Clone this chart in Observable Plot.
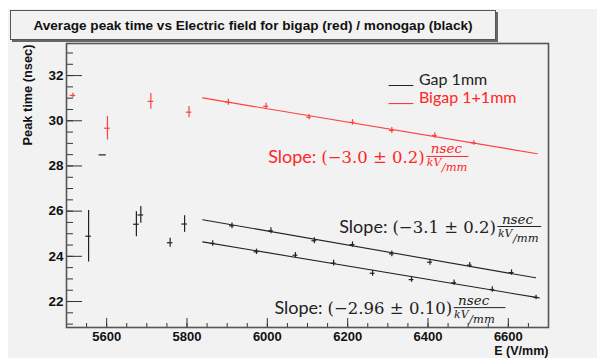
<!DOCTYPE html>
<html><head><meta charset="utf-8">
<script src="https://cdn.jsdelivr.net/npm/d3@7"></script>
<script src="https://cdn.jsdelivr.net/npm/@observablehq/plot@0.6"></script>
<style>
body{margin:0;background:#fff;}
#wrap{position:relative;width:597px;height:358px;overflow:hidden;}
#bg{position:absolute;left:8px;top:9px;right:0;bottom:0;background:#f2f2f2;}
#chart{position:absolute;left:0;top:0;}
#title{position:absolute;left:10px;top:10px;width:484px;height:28px;border:1px solid #555;box-shadow:2px 2px 0 #666;background:#f2f2f2;font:bold 13.6px "Liberation Sans",Arial,sans-serif;text-align:center;line-height:29px;color:#111;white-space:nowrap;}
</style></head><body>
<div id="wrap"><div id="bg"></div><div id="chart"></div><div id="title">Average peak time vs Electric field for bigap (red) / monogap (black)</div></div>
<script>
// ---- data ----
const bigapE    = [5516, 5602, 5710, 5805, 5903, 5997, 6104, 6212, 6310, 6417, 6514];
const bigapT    = [31.12, 29.67, 30.86, 30.38, 30.82, 30.64, 30.16, 29.93, 29.57, 29.35, 29.02];
const bigapErrT = [0.10, 0.52, 0.35, 0.25, 0.13, 0.13, 0.12, 0.12, 0.13, 0.12, 0.10];
const bigapErrE = [7, 7, 7, 7, 6, 6, 6, 6, 6, 6, 6];

const monoIsoE    = [5555, 5590, 5674, 5685, 5758, 5794];
const monoIsoT    = [24.89, 28.49, 25.42, 25.83, 24.60, 25.43];
const monoIsoErrT = [1.14, 0, 0.55, 0.37, 0.20, 0.37];
const monoIsoErrE = [7, 9, 7, 7, 7, 7];

const monoAE    = [5912, 6009, 6117, 6212, 6310, 6405, 6504, 6608];
const monoAT    = [25.35, 25.13, 24.69, 24.52, 24.11, 23.74, 23.61, 23.28];
const monoAErrT = [0.13, 0.13, 0.13, 0.12, 0.13, 0.13, 0.12, 0.12];
const monoBE    = [5864, 5973, 6070, 6165, 6262, 6359, 6465, 6560, 6669];
const monoBT    = [24.57, 24.20, 24.05, 23.70, 23.25, 22.97, 22.83, 22.53, 22.18];
const monoBErrT = [0.12, 0.12, 0.12, 0.13, 0.13, 0.12, 0.12, 0.12, 0.10];
const fitPointErrE = 6;

const bigapFitE = [5839, 6672], bigapFitT = [31.01, 28.54];
const monoAFitE = [5839, 6668], monoAFitT = [25.62, 23.05];
const monoBFitE = [5839, 6677], monoBFitT = [24.64, 22.16];

const slopeValues = ["(−3.0 ± 0.2)", "(−3.1 ± 0.2)", "(−2.96 ± 0.10)"];
const legendLabels = ["Gap 1mm", "Bigap 1+1mm"];

const yMajor = [22, 24, 26, 28, 30, 32];
const yMinor = d3.range(21, 33.01, 0.5);
const xMajor = [5600, 5800, 6000, 6200, 6400, 6600];
const xMinor = d3.range(5550, 6700, 50);

// ---- styles ----
const RED = "#ff4040", RED_TXT = "#ff2626", BLK = "#222";
const serif = "DejaVu Serif, serif";
const sans = "Lato, sans-serif";

const mk = (E, T, dT, dE) => E.map((e, i) => ({E: e, T: T[i], dT: Array.isArray(dT) ? dT[i] : dT, dE: Array.isArray(dE) ? dE[i] : dE}));
const bigap = mk(bigapE, bigapT, bigapErrT, bigapErrE);
const monoIso = mk(monoIsoE, monoIsoT, monoIsoErrT, monoIsoErrE);
const monoA = mk(monoAE, monoAT, monoAErrT, fitPointErrE);
const monoB = mk(monoBE, monoBT, monoBErrT, fitPointErrE);
const fitRows = (E, T) => E.map((e, i) => ({E: e, T: T[i]}));

function errMarks(rows, color) {
  return [
    Plot.ruleX(rows.filter(d => d.dT > 0), {x: "E", y1: d => d.T - d.dT, y2: d => d.T + d.dT, stroke: color, strokeWidth: 1.2}),
    Plot.ruleY(rows, {y: "T", x1: d => d.E - d.dE, x2: d => d.E + d.dE, stroke: color, strokeWidth: 1.2})
  ];
}

// measure widths for annotation layout
const ctx = document.createElement("canvas").getContext("2d");
function tw(str, font) { ctx.font = font; return ctx.measureText(str).width; }
const parenSize = 16.5;
const parenFont = `${parenSize}px ${serif}`;

// slope annotations: fraction bar placement (data coordinates)
const slopes = [
  {x1: 6397, x2: 6502, y: 28.42, color: RED_TXT, text: slopeValues[0]},
  {x1: 6574, x2: 6683, y: 25.32, color: BLK, text: slopeValues[1]},
  {x1: 6465, x2: 6594, y: 21.73, color: BLK, text: slopeValues[2]}
];

const slopeMarks = slopes.flatMap(s => {
  const w = tw(s.text, parenFont);
  return [
    Plot.ruleY([s], {y: "y", x1: "x1", x2: "x2", stroke: s.color, strokeWidth: 1}),
    Plot.text([s], {x: "x1", y: "y", text: "text", fill: s.color, textAnchor: "end", lineAnchor: "bottom", dx: -2, dy: 6.5, fontFamily: serif, fontSize: parenSize}),
    Plot.text([s], {x: "x1", y: "y", text: () => "Slope:", fill: s.color, textAnchor: "end", lineAnchor: "bottom", dx: -2 - w - 5, dy: 6.5, fontFamily: sans, fontSize: 18}),
    Plot.text([s], {x: "x1", y: "y", text: () => "nsec", fill: s.color, textAnchor: "start", lineAnchor: "bottom", dx: 4, dy: -3, fontFamily: serif, fontStyle: "italic", fontSize: 13.5}),
    Plot.text([s], {x: "x1", y: "y", text: () => "kV", fill: s.color, textAnchor: "start", lineAnchor: "bottom", dx: 0, dy: 10, fontFamily: serif, fontStyle: "italic", fontSize: 11}),
    Plot.text([s], {x: "x1", y: "y", text: () => "/mm", fill: s.color, textAnchor: "start", lineAnchor: "bottom", dx: 15, dy: 15, fontFamily: serif, fontStyle: "italic", fontSize: 11.5})
  ];
});

const legend = [
  {x1: 6303, x2: 6365, y: 31.56, color: BLK, label: legendLabels[0]},
  {x1: 6303, x2: 6365, y: 30.76, color: RED_TXT, label: legendLabels[1]}
];

const chart = Plot.plot({
  width: 597, height: 358,
  marginLeft: 66, marginRight: 49, marginTop: 43, marginBottom: 31,
  style: {fontFamily: "Liberation Sans, Arial, sans-serif", background: "transparent", color: "#111", overflow: "visible"},
  x: {domain: [5500, 6700], label: null},
  y: {domain: [20.85, 33.42], label: null},
  marks: [
    // axes: inward ticks (ROOT style)
    Plot.axisY(yMinor, {tickSize: -7, tickFormat: () => "", label: null, stroke: "#333"}),
    Plot.axisY(yMajor, {tickSize: -16, tickFormat: () => "", label: null, stroke: "#333"}),
    Plot.axisY(yMajor, {tickSize: 0, tickPadding: 3, tickFormat: d => String(d), label: null, fontSize: 13.5, fontWeight: "bold"}),
    Plot.axisX(xMinor, {tickSize: -4, tickFormat: () => "", label: null, stroke: "#333"}),
    Plot.axisX(xMajor, {tickSize: -9, tickFormat: () => "", label: null, stroke: "#333"}),
    Plot.axisX(xMajor, {tickSize: 0, tickPadding: 4, tickFormat: d => String(d), label: null, fontSize: 13, fontWeight: "bold"}),
    Plot.frame({stroke: "#555", strokeWidth: 1.6}),
    Plot.text(["Peak time (nsec)"], {frameAnchor: "top-left", rotate: -90, textAnchor: "end", lineAnchor: "middle", dx: -39, dy: 1, fontWeight: "bold", fontSize: 12.8}),
    Plot.text(["E (V/mm)"], {frameAnchor: "bottom-right", textAnchor: "end", lineAnchor: "bottom", dy: 27.5, fontWeight: "bold", fontSize: 12.5}),
    // fits
    Plot.line(fitRows(bigapFitE, bigapFitT), {x: "E", y: "T", stroke: RED, strokeWidth: 1.2}),
    Plot.line(fitRows(monoAFitE, monoAFitT), {x: "E", y: "T", stroke: BLK, strokeWidth: 1.1}),
    Plot.line(fitRows(monoBFitE, monoBFitT), {x: "E", y: "T", stroke: BLK, strokeWidth: 1.1}),
    // data with error bars
    ...errMarks(bigap, RED),
    ...errMarks(monoIso, BLK),
    ...errMarks(monoA, BLK),
    ...errMarks(monoB, BLK),
    // legend
    Plot.ruleY(legend, {y: "y", x1: "x1", x2: "x2", stroke: "color", strokeWidth: 1}),
    Plot.text(legend, {x: "x2", y: "y", text: "label", fill: "color", textAnchor: "start", lineAnchor: "bottom", dx: 5, dy: -1, fontFamily: sans, fontSize: 16}),
    // slope annotations
    ...slopeMarks
  ]
});
document.getElementById("chart").appendChild(chart);
</script>
</body></html>
